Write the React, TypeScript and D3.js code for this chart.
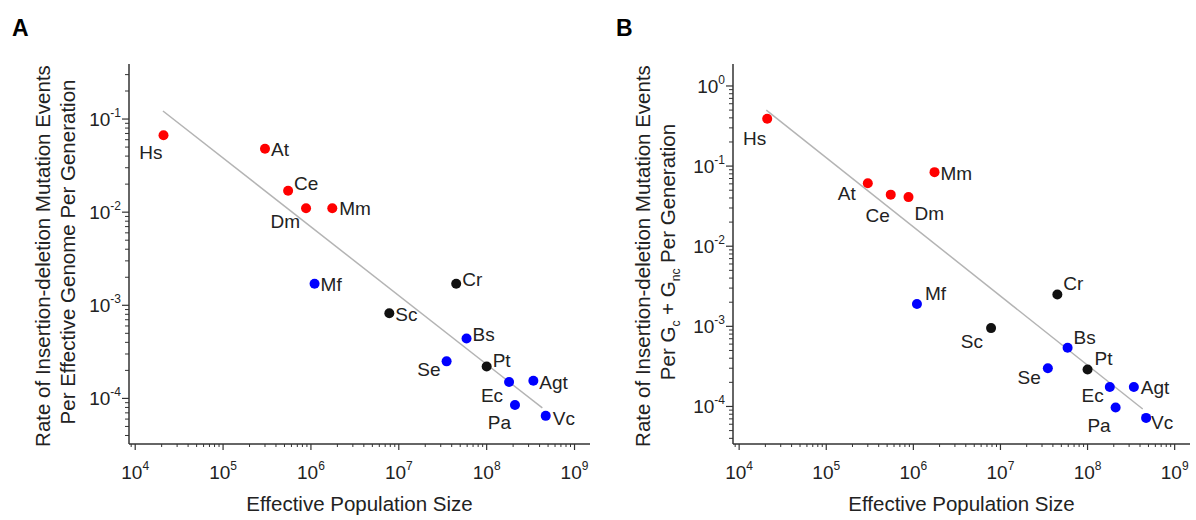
import React from "react";
import * as d3 from "d3";

// species in plotting order
const species = ["Hs", "At", "Ce", "Dm", "Mm", "Mf", "Cr", "Sc", "Bs", "Se", "Pt", "Ec", "Agt", "Pa", "Vc"];
const groups = ["red", "red", "red", "red", "red", "blue", "black", "black", "blue", "blue", "black", "blue", "blue", "blue", "blue"];

// effective population size (shared by both panels)
const popSize = [2.1e4, 3.0e5, 5.5e5, 8.8e5, 1.75e6, 1.1e6, 4.5e7, 7.8e6, 5.9e7, 3.5e7, 1.0e8, 1.8e8, 3.4e8, 2.1e8, 4.7e8];

// panel A: rate per effective genome per generation
const rateA = [0.067, 0.048, 0.017, 0.011, 0.011, 1.7e-3, 1.7e-3, 8.2e-4, 4.4e-4, 2.5e-4, 2.2e-4, 1.5e-4, 1.55e-4, 8.5e-5, 6.5e-5];
// panel B: rate per Gc+Gnc per generation
const rateB = [0.39, 0.061, 0.044, 0.041, 0.084, 1.9e-3, 2.5e-3, 9.5e-4, 5.4e-4, 3.0e-4, 2.9e-4, 1.75e-4, 1.75e-4, 9.7e-5, 7.2e-5];

// regression line end points
const fitA = [{ x: 2.07e4, y: 0.122 }, { x: 4.3e8, y: 7.9e-5 }];
const fitB = [{ x: 2.05e4, y: 0.5 }, { x: 4.3e8, y: 9.3e-5 }];

const xTicks = [4, 5, 6, 7, 8, 9];
const yTicksA = [-1, -2, -3, -4];
const yTicksB = [0, -1, -2, -3, -4];

// label placement [dx, dy, anchor]
const labelPosA: [number, number, string][] = [
  [-1, 24, "end"], [6, 7, "start"], [6, -1, "start"], [-6, 20, "end"], [7, 7, "start"],
  [6, 7, "start"], [6, 2, "start"], [6, 8, "start"], [6, 3, "start"], [-6, 15, "end"],
  [6, 0, "start"], [-6, 20, "end"], [6, 8, "start"], [-4, 24, "end"], [7, 9, "start"],
];
const labelPosB: [number, number, string][] = [
  [-1, 26, "end"], [-12, 17, "end"], [-1, 27, "end"], [6, 23, "start"], [6, 8, "start"],
  [8, -4, "start"], [6, -4, "start"], [-8, 20, "end"], [6, -4, "start"], [-7, 16, "end"],
  [7, -4, "start"], [-6, 15, "end"], [7, 7, "start"], [-5, 24, "end"], [5, 11, "start"],
];

const colors: Record<string, string> = { red: "#ff0000", blue: "#0000ff", black: "#111" };
const FONT = "Liberation Sans, Arial, sans-serif";
const AXIS = "#333";
const TEXT = "#222";

type PanelProps = {
  letter: string;
  left: number;
  right: number;
  yDomain: [number, number];
  rates: number[];
  fit: { x: number; y: number }[];
  yTicks: number[];
  labelPos: [number, number, string][];
  title1: string;
  title2: React.ReactNode;
  t1x: number;
  t2x: number;
};

const Panel = ({ letter, left, right, yDomain, rates, fit, yTicks, labelPos, title1, title2, t1x, t2x }: PanelProps) => {
  const top = 64;
  const bottom = 444;
  const x = d3.scaleLog().domain([8.5e3, 1.5e9]).range([left, right]);
  const y = d3.scaleLog().domain(yDomain).range([bottom, top]);

  const minorX: number[] = [];
  for (let e = 3; e <= 9; e++) for (let m = 2; m <= 9; m++) {
    const v = m * Math.pow(10, e);
    if (v >= 8.5e3 && v <= 1.5e9) minorX.push(v);
  }
  const minorY: number[] = [];
  for (let e = -5; e <= 0; e++) for (let m = 2; m <= 9; m++) {
    const v = m * Math.pow(10, e);
    if (v >= yDomain[0] && v <= yDomain[1]) minorY.push(v);
  }
  const line = d3.line<{ x: number; y: number }>().x((d) => x(d.x)).y((d) => y(d.y));
  const midY = (top + bottom) / 2;

  return (
    <g fontFamily={FONT}>
      <text x={left - 117} y={36} fontSize={23} fontWeight="bold">{letter}</text>

      {/* fit line */}
      <path d={line(fit) || ""} stroke="#b4b4b4" strokeWidth={1.5} fill="none" />

      {/* axes */}
      <line x1={left} x2={right} y1={bottom} y2={bottom} stroke={AXIS} strokeWidth={1.5} />
      <line x1={left} x2={left} y1={top} y2={bottom} stroke={AXIS} strokeWidth={1.5} />
      {minorX.map((v, i) => (
        <line key={"mx" + i} x1={x(v)} x2={x(v)} y1={bottom} y2={bottom + 3} stroke={AXIS} strokeWidth={1} />
      ))}
      {xTicks.map((e) => (
        <g key={"x" + e}>
          <line x1={x(Math.pow(10, e))} x2={x(Math.pow(10, e))} y1={bottom} y2={bottom + 6} stroke={AXIS} strokeWidth={1.2} />
          <text x={x(Math.pow(10, e))} y={479} textAnchor="middle" fontSize={19} fill={TEXT}>
            10<tspan dy={-9} fontSize={12}>{e}</tspan>
          </text>
        </g>
      ))}
      {minorY.map((v, i) => (
        <line key={"my" + i} x1={left - 4} x2={left} y1={y(v)} y2={y(v)} stroke={AXIS} strokeWidth={1} />
      ))}
      {yTicks.map((e) => (
        <g key={"y" + e}>
          <line x1={left - 7} x2={left} y1={y(Math.pow(10, e))} y2={y(Math.pow(10, e))} stroke={AXIS} strokeWidth={1.2} />
          <text x={left - 8} y={y(Math.pow(10, e)) + 7} textAnchor="end" fontSize={19} fill={TEXT}>
            10<tspan dy={-9} fontSize={12}>{e}</tspan>
          </text>
        </g>
      ))}

      {/* titles */}
      <text x={(left + right) / 2} y={511} textAnchor="middle" fontSize={20.5} fill={TEXT}>Effective Population Size</text>
      <text transform={`translate(${t1x},${midY + 2}) rotate(-90)`} textAnchor="middle" fontSize={20.5} fill={TEXT}>{title1}</text>
      <text transform={`translate(${t2x},${midY - 2}) rotate(-90)`} textAnchor="middle" fontSize={20.5} fill={TEXT}>{title2}</text>

      {/* points */}
      {species.map((s, i) => (
        <g key={s}>
          <circle cx={x(popSize[i])} cy={y(rates[i])} r={5} fill={colors[groups[i]]} />
          <text
            x={x(popSize[i]) + labelPos[i][0]}
            y={y(rates[i]) + labelPos[i][1]}
            textAnchor={labelPos[i][2] as any}
            fontSize={19}
            fill={TEXT}>
            {s}
          </text>
        </g>
      ))}
    </g>
  );
};

export default function App() {
  return (
    <svg width={1196} height={520} style={{ position: "absolute", left: 0, top: 0, background: "#fff" }}>
      <Panel
        letter="A"
        left={129}
        right={590}
        yDomain={[3.24e-5, 0.39]}
        rates={rateA}
        fit={fitA}
        yTicks={yTicksA}
        labelPos={labelPosA}
        title1="Rate of Insertion-deletion Mutation Events"
        title2="Per Effective Genome Per Generation"
        t1x={50}
        t2x={75}
      />
      <Panel
        letter="B"
        left={733}
        right={1190}
        yDomain={[3.4e-5, 1.88]}
        rates={rateB}
        fit={fitB}
        yTicks={yTicksB}
        labelPos={labelPosB}
        title1="Rate of Insertion-deletion Mutation Events"
        title2={
          <>
            Per G<tspan dy={5} fontSize={12}>c</tspan>
            <tspan dy={-5}> + G</tspan>
            <tspan dy={5} fontSize={12}>nc</tspan>
            <tspan dy={-5}> Per Generation</tspan>
          </>
        }
        t1x={650}
        t2x={675}
      />
    </svg>
  );
}
